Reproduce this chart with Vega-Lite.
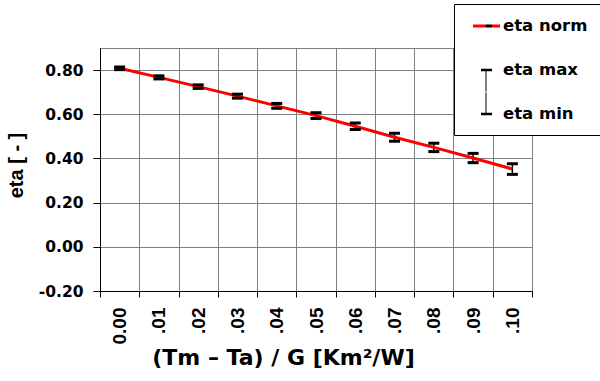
{
  "$schema": "https://vega.github.io/schema/vega-lite/v6.json",
  "autosize": {"type": "none"},
  "padding": {"left": 100, "top": 48, "right": 68, "bottom": 90},
  "width": 432,
  "height": 243,
  "background": "white",
  "config": {
    "view": {"stroke": "#808080", "strokeWidth": 1},
    "axis": {"gridColor": "#808080", "gridWidth": 1, "gridOpacity": 1, "domainColor": "black", "tickColor": "black", "labelColor": "black", "titleColor": "black"}
  },
  "data": {
    "values": [
      {"x": "0.00", "eta": 0.808, "lo": 0.802, "hi": 0.814},
      {"x": ".01", "eta": 0.767, "lo": 0.760, "hi": 0.774},
      {"x": ".02", "eta": 0.725, "lo": 0.717, "hi": 0.733},
      {"x": ".03", "eta": 0.682, "lo": 0.673, "hi": 0.691},
      {"x": ".04", "eta": 0.638, "lo": 0.627, "hi": 0.649},
      {"x": ".05", "eta": 0.594, "lo": 0.581, "hi": 0.607},
      {"x": ".06", "eta": 0.546, "lo": 0.531, "hi": 0.561},
      {"x": ".07", "eta": 0.496, "lo": 0.478, "hi": 0.514},
      {"x": ".08", "eta": 0.450, "lo": 0.431, "hi": 0.469},
      {"x": ".09", "eta": 0.402, "lo": 0.381, "hi": 0.423},
      {"x": ".10", "eta": 0.352, "lo": 0.328, "hi": 0.376}
    ]
  },
  "encoding": {
    "x": {
      "field": "x", "type": "nominal", "sort": null, "bandPosition": 0.5,
      "scale": {"type": "band", "paddingInner": 0, "paddingOuter": 0},
      "axis": {
        "title": "(Tm – Ta) / G [Km²/W]",
        "tickBand": "extent", "grid": true, "tickSize": 6, "labelPadding": 10,
        "labelAngle": 270, "labelAlign": "right", "labelBaseline": "middle",
        "labelFont": "Liberation Sans", "labelFontSize": 19, "labelFontWeight": "bold",
        "titleFont": "DejaVu Sans", "titleFontSize": 22, "titleFontWeight": "bold",
        "titleX": 183, "titleY": 73, "titleBaseline": "alphabetic", "titleAlign": "center",
        "labelOverlap": false
      }
    }
  },
  "layer": [
    {
      "mark": {"type": "rule", "color": "black", "strokeWidth": 1.5},
      "encoding": {
        "y": {"field": "lo", "type": "quantitative",
          "scale": {"domain": [-0.2, 0.9], "nice": false, "zero": false},
          "axis": {
            "title": "eta [ - ]", "values": [-0.2, 0, 0.2, 0.4, 0.6, 0.8],
            "labelExpr": "replace(format(datum.value, '.2f'), '\u2212', '-')",
            "grid": true, "tickSize": 7, "labelPadding": 10,
            "labelFont": "DejaVu Sans", "labelFontSize": 15.5, "labelFontWeight": "bold",
            "titleFont": "Liberation Sans", "titleFontSize": 20, "titleFontWeight": "bold",
            "titleX": -78, "titleY": 117, "titleAngle": 270, "titleBaseline": "alphabetic", "titleAlign": "center"
          }
        },
        "y2": {"field": "hi"}
      }
    },
    {
      "mark": {"type": "line", "strokeWidth": 3},
      "encoding": {
        "y": {"field": "eta", "type": "quantitative"},
        "stroke": {
          "datum": "eta norm",
          "scale": {"domain": ["eta norm", "eta max", "eta min"], "range": ["#ff0000", "black", "black"]},
          "legend": {
            "title": null, "orient": "none", "legendX": 354, "legendY": -44,
            "padding": 12, "strokeColor": "black", "fillColor": "white",
            "symbolSize": 400, "rowPadding": 0, "labelOffset": 17,
            "labelFont": "DejaVu Sans", "labelFontSize": 16.5, "labelFontWeight": "bold", "labelColor": "black",
            "encode": {
              "symbols": {
                "update": {
                  "shape": {"signal": "datum.value == 'eta norm' ? 'M-0.3,-0.15H2.4V0.15H-0.3Z M0,-1V2.15' : datum.value == 'eta max' ? 'M0.5,-0.12H1.6V0.12H0.5Z M0.95,0H1.05V2.15H0.95Z M1,-2.15V0' : 'M0.5,-0.12H1.6V0.12H0.5Z M0.95,-2.15H1.05V0H0.95Z'"},
                  "fill": {"signal": "datum.value == 'eta norm' ? {gradient: 'linear', x1: 0, y1: 0, x2: 1, y2: 0, stops: [{offset: 0, color: '#ff0000'}, {offset: 0.48, color: '#ff0000'}, {offset: 0.48, color: 'black'}, {offset: 0.7, color: 'black'}, {offset: 0.7, color: '#ff0000'}, {offset: 1, color: '#ff0000'}]} : 'black'"},
                  "fillOpacity": {"value": 1},
                  "opacity": {"value": 1},
                  "stroke": {"value": "transparent"},
                  "strokeWidth": {"value": 0}
                }
              }
            }
          }
        }
      }
    },
    {
      "mark": {"type": "tick", "orient": "horizontal", "size": 11, "thickness": 3, "fill": "black", "strokeWidth": 0, "opacity": 1},
      "encoding": {
        "y": {"field": "hi", "type": "quantitative"},
        "stroke": {"datum": "eta max"}
      }
    },
    {
      "mark": {"type": "tick", "orient": "horizontal", "size": 11, "thickness": 3, "fill": "black", "strokeWidth": 0, "opacity": 1},
      "encoding": {
        "y": {"field": "lo", "type": "quantitative"},
        "stroke": {"datum": "eta min"}
      }
    }
  ]
}
